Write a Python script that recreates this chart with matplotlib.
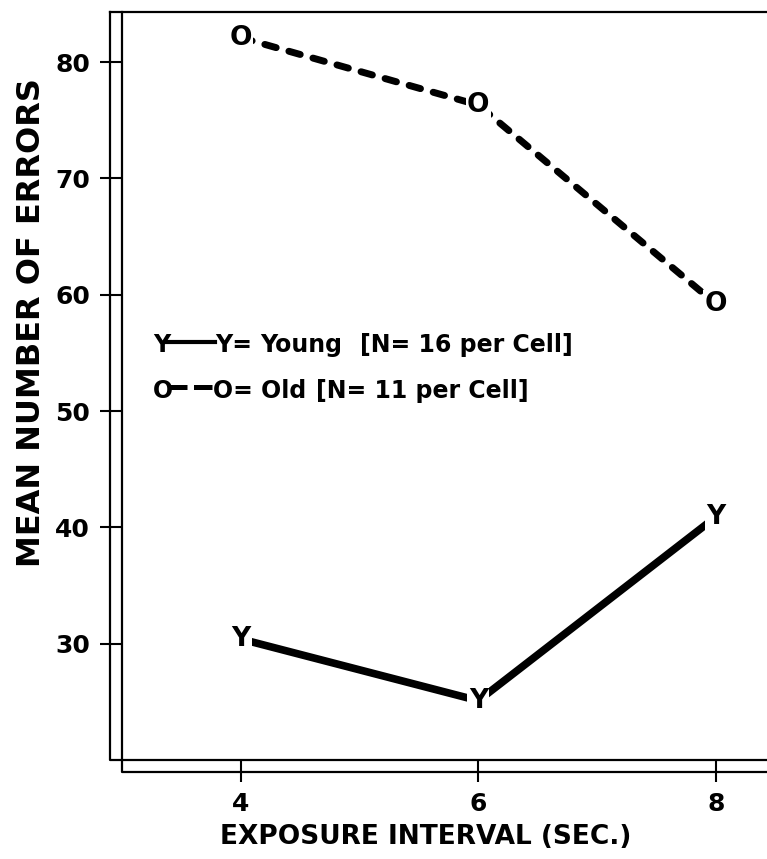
# Mean errors by exposure interval for young and old groups
import matplotlib
matplotlib.use("Agg")
import matplotlib.pyplot as plt

INTERVALS = [4, 6, 8]
YOUNG_ERRORS = [30.4, 25.1, 40.9]
OLD_ERRORS = [82.1, 76.3, 59.2]
Y_TICKS = [30, 40, 50, 60, 70, 80]
YOUNG_KEY = ["Y=", "Young", "[N= 16 per Cell]"]
OLD_KEY = ["O= Old", "[N= 11 per Cell]"]

plt.rcParams["font.family"] = ["DejaVu Sans"]
plt.rcParams["font.weight"] = "bold"

fig = plt.figure(figsize=(7.67, 8.59), dpi=100)
ax = fig.add_axes([122 / 767, 1 - 760 / 859, 645 / 767, 748 / 859])
ax.set_xlim(3.0, 8.43)
ax.set_ylim(20, 84.3)

for s in ax.spines.values():
    s.set_visible(False)

# double frame drawn by hand, like the old plate
dx, dy = 12 / 645, 12 / 748
frame = dict(color="black", lw=1.6, transform=ax.transAxes, clip_on=False)
ax.plot([-dx, -dx, 1.0], [1.0, 0.0, 0.0], **frame)
ax.plot([0.0, 0.0, 1.0], [1.0, -dy, -dy], **frame)
ax.plot([-dx, 1.0], [1.0, 1.0], **frame)

ax.set_xticks(INTERVALS)
ax.set_yticks(Y_TICKS)
ax.tick_params(direction="out", length=16, width=1.5, labelsize=18, pad=7)
for lbl in ax.get_xticklabels() + ax.get_yticklabels():
    lbl.set_fontweight("bold")

ax.set_xlabel("EXPOSURE INTERVAL (SEC.)", fontsize=19, fontweight="bold")
ax.xaxis.set_label_coords(0.471, -0.085)
ax.set_ylabel("MEAN NUMBER OF ERRORS", fontsize=23, fontweight="bold")
ax.yaxis.set_label_coords(-0.117, 0.585)

ax.plot(INTERVALS, YOUNG_ERRORS, color="black", lw=5.5,
        solid_capstyle="round", zorder=2)
ax.plot(INTERVALS, OLD_ERRORS, color="black", lw=5,
        linestyle=(0, (1.7, 1.9)), dash_capstyle="round", zorder=2)

box = dict(boxstyle="square,pad=0.05", fc="white", ec="none")
for x, y in zip(INTERVALS, YOUNG_ERRORS):
    ax.text(x, y, "Y", ha="center", va="center", fontsize=19,
            fontweight="bold", bbox=box, zorder=3)
for x, y in zip(INTERVALS, OLD_ERRORS):
    ax.text(x, y, "O", ha="center", va="center", fontsize=19,
            fontweight="bold", bbox=box, zorder=3)

# hand-lettered key
key = dict(transform=ax.transAxes, fontsize=17, fontweight="bold",
           va="baseline", ha="left")
ax.text(0.0481, 0.5455, "Y", **key)
ax.plot([0.0698, 0.1442], [0.5588, 0.5588], color="black", lw=3,
        transform=ax.transAxes)
for xpos, part in zip([0.1442, 0.2140, 0.3690], YOUNG_KEY):
    ax.text(xpos, 0.5455, part, **key)

ax.text(0.0481, 0.484, "O", **key)
ax.plot([0.0713, 0.1395], [0.4987, 0.4987], color="black", lw=3.6,
        linestyle=(0, (3.8, 1.3)), dash_capstyle="butt",
        transform=ax.transAxes)
for xpos, part in zip([0.1411, 0.3000], OLD_KEY):
    ax.text(xpos, 0.484, part, **key)

fig.savefig("out.png", dpi=100)
